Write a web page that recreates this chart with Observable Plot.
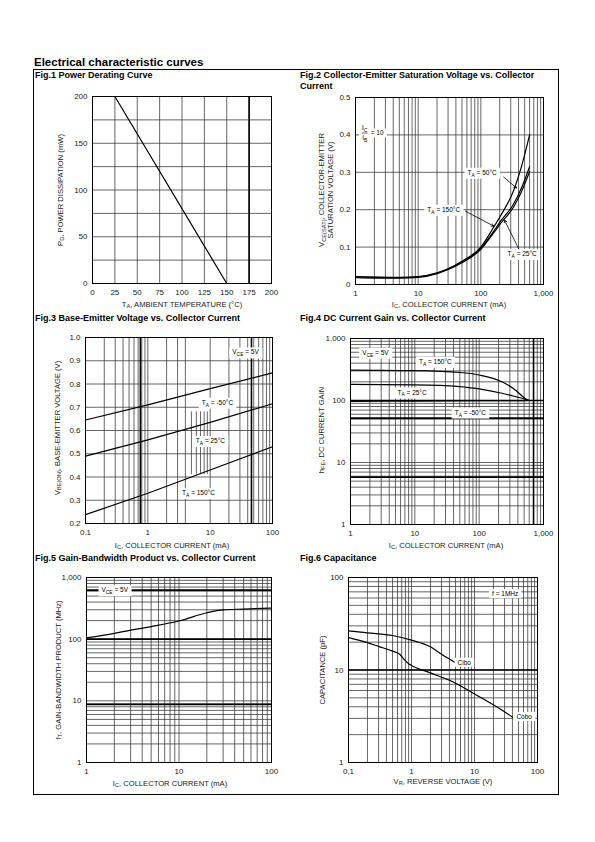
<!DOCTYPE html>
<html><head><meta charset="utf-8">
<script src="https://cdn.jsdelivr.net/npm/d3@7"></script>
<script src="https://cdn.jsdelivr.net/npm/@observablehq/plot@0.6"></script>
<style>
body{margin:0;background:#fff;}
#page{position:relative;width:595px;height:842px;overflow:hidden;font-family:"Liberation Sans",Arial,sans-serif;background:#fff;}
.abs{position:absolute;white-space:nowrap;}
.main{font-weight:bold;font-size:11.5px;line-height:12px;}
.ttl{font-weight:bold;font-size:9px;line-height:10.5px;}
.ax{font-size:7.6px;line-height:9px;color:#222;text-align:center;}
.ax sub{font-size:75%;vertical-align:-0.3em;line-height:0;}
#border{position:absolute;left:33px;top:69px;width:524px;height:724px;border:1px solid #000;}
</style>
</head><body>
<div id="page"><div id="border"></div></div>
<script>
// ---------- DATA ----------
// Fig.1 Power derating
const fig1Temp = [0, 25, 150];
const fig1Power = [200, 200, 0];
const fig1XTicks = [0, 25, 50, 75, 100, 125, 150, 175, 200];
const fig1YTicks = [0, 50, 100, 150, 200];
const fig1Grid = [25, 50, 75, 100, 125, 150, 175];
const fig1ThickX = [175];

// Fig.2 VCE(sat) vs Ic
const fig2Ic   = [1, 2, 5, 10, 20, 30, 50, 100, 160, 200, 335, 450, 600];
const fig2V150 = [0.021, 0.020, 0.019, 0.021, 0.031, 0.042, 0.062, 0.100, 0.153, 0.180, 0.252, 0.318, 0.400];
const fig2V50  = [0.020, 0.019, 0.018, 0.020, 0.030, 0.041, 0.060, 0.097, 0.142, 0.166, 0.216, 0.260, 0.315];
const fig2V25  = [0.018, 0.017, 0.017, 0.019, 0.029, 0.040, 0.058, 0.094, 0.138, 0.160, 0.208, 0.250, 0.302];
const fig2XTicks = [1, 10, 100, 1000];
const fig2YTicks = [0, 0.1, 0.2, 0.3, 0.4, 0.5];
const fig2Labels = [
  {t: "T_{A} = 50°C", x: 105, y: 0.299},
  {t: "T_{A} = 150°C", x: 25.6, y: 0.200},
  {t: "T_{A} = 25°C", x: 457, y: 0.082}
];
const fig2Arrows = [
  {x1: 232, y1: 0.287, x2: 371, y2: 0.258},
  {x1: 57, y1: 0.196, x2: 161, y2: 0.156},
  {x1: 404, y1: 0.095, x2: 239, y2: 0.172}
];
const fig2Ratio = [
  {t: "I_{C}", x: 1.4, y: 0.418, a: "middle"},
  {t: "I_{B}", x: 1.4, y: 0.392, a: "middle"},
  {t: "= 10", x: 1.75, y: 0.404, a: "start"}
];
const fig2RatioBar = [{x1: 1.27, x2: 1.56, y: 0.405}];

// Fig.3 VBE(on) vs Ic
const fig3Ic = [0.1, 1, 10, 100];
const fig3Vm50 = [0.645, 0.710, 0.780, 0.848];
const fig3V25  = [0.490, 0.560, 0.635, 0.715];
const fig3V150 = [0.238, 0.330, 0.430, 0.530];
const fig3XTicks = [0.1, 1, 10, 100];
const fig3YTicks = [0.2, 0.3, 0.4, 0.5, 0.6, 0.7, 0.8, 0.9, 1.0];
const fig3ThickX = [0.76, 46];
const fig3PartialX = [5, 6, 7, 8, 9];
const fig3PartialSpan = [0.41, 0.68];
const fig3Labels = [
  {t: "V_{CE} = 5V", x: 36.9, y: 0.936},
  {t: "T_{A} = -50°C", x: 13.1, y: 0.720},
  {t: "T_{A} = 25°C", x: 10.1, y: 0.555},
  {t: "T_{A} = 150°C", x: 6.5, y: 0.331}
];

// Fig.4 hFE vs Ic
const fig4Ic150 = [1, 10, 50, 100, 226, 364, 520, 600];
const fig4H150  = [310, 303, 283, 258, 201, 148, 108, 100];
const fig4Ic25  = [1, 10, 50, 100, 226, 364, 600];
const fig4H25   = [182, 179, 168, 154, 131, 116, 100];
const fig4IcM50 = [1, 10, 100, 600];
const fig4HM50  = [97, 98, 99, 100];
const fig4XTicks = [1, 10, 100, 1000];
const fig4YTicks = [1, 10, 100, 1000];
const fig4ThickY = [100, 52, 5.8];
const fig4ThickX = [700];
const fig4Labels = [
  {t: "V_{CE} = 5V", x: 2.44, y: 589},
  {t: "T_{A} = 150°C", x: 20.8, y: 422},
  {t: "T_{A} = 25°C", x: 9.06, y: 135},
  {t: "T_{A} = -50°C", x: 73, y: 64}
];

// Fig.5 fT vs Ic
const fig5Ic = [1, 2, 3, 5, 10, 20, 30, 50, 100];
const fig5fT = [105, 124, 140, 160, 197, 268, 299, 308, 320];
const fig5XTicks = [1, 10, 100];
const fig5YTicks = [1, 10, 100, 1000];
const fig5ThickY = [623, 100, 8.7];
const fig5Labels = [{t: "V_{CE} = 5V", x: 2.02, y: 623}];

// Fig.6 Capacitance vs VR
const fig6VrCibo = [0.1, 0.2, 0.5, 1, 2, 3, 5];
const fig6Cibo   = [26.5, 25.2, 23.6, 21, 17.8, 14.8, 12];
const fig6VrCobo = [0.1, 0.2, 0.3, 0.5, 0.65, 0.75, 0.9, 1, 2, 5, 10, 20, 40];
const fig6Cobo   = [22.4, 19.8, 18, 16, 14.8, 13.2, 11.7, 11.2, 9.3, 7.2, 5.5, 4.2, 3.1];
const fig6XTicks = [0.1, 1, 10, 100];
const fig6YTicks = [1, 10, 100];
const fig6ThickY = [10];
const fig6Labels = [
  {t: "Cibo", x: 6.86, y: 12},
  {t: "Cobo", x: 61.4, y: 3.1},
  {t: "f = 1MHz", x: 30.7, y: 66}
];

// ---------- HELPERS ----------
const page = document.getElementById("page");
const SVGNS = "http://www.w3.org/2000/svg";
const pts = (xs, ys) => xs.map((x, i) => ({x, y: ys[i]}));
function logGrid(lo, hi) {
  const out = [];
  for (let e = Math.round(Math.log10(lo)); e < Math.round(Math.log10(hi)); e++)
    for (let k = 1; k < 10; k++) out.push(+(k * Math.pow(10, e)).toPrecision(6));
  out.push(hi);
  return out;
}
const GRID = {stroke: "#333", strokeWidth: 0.75};
const THICK = {stroke: "#000", strokeWidth: 1.6};
const CURVE = {x: "x", y: "y", stroke: "#000", strokeWidth: 1.2, curve: "monotone-x"};
const LBL = {x: "x", y: "y", text: "t", fontSize: 6.5, fill: "#000"};

function richify(t) {
  const s = t.textContent;
  if (!s.includes("_{")) return;
  while (t.firstChild) t.removeChild(t.firstChild);
  const re = /_\{([^}]*)\}/g; let last = 0, m, shifted = false;
  const add = (str, sub) => {
    const sp = document.createElementNS(SVGNS, "tspan");
    sp.textContent = str;
    if (sub) { sp.setAttribute("dy", "2"); sp.setAttribute("font-size", "75%"); shifted = true; }
    else if (shifted) { sp.setAttribute("dy", "-2"); shifted = false; }
    t.appendChild(sp);
  };
  while ((m = re.exec(s))) {
    if (m.index > last) add(s.slice(last, m.index), false);
    add(m[1], true);
    last = re.lastIndex;
  }
  if (last < s.length) add(s.slice(last), false);
}

function fig({frame: [x0, y0, x1, y1], x, y, marks}) {
  const mL = 36, mR = 18, mT = 8, mB = 18;
  const svg = Plot.plot({
    width: x1 - x0 + mL + mR, height: y1 - y0 + mT + mB,
    marginLeft: mL, marginRight: mR, marginTop: mT, marginBottom: mB,
    style: {fontFamily: '"Liberation Sans", Arial, sans-serif', fontSize: "8px", color: "#222", background: "none", overflow: "visible"},
    x: {...x, label: null, tickSize: 0, tickPadding: 6},
    y: {...y, label: null, tickSize: 0, tickPadding: 5},
    marks
  });
  svg.style.position = "absolute";
  svg.style.left = (x0 - mL) + "px";
  svg.style.top = (y0 - mT) + "px";
  svg.style.maxWidth = "none";
  page.appendChild(svg);
  svg.querySelectorAll('g[aria-label="text"] text').forEach(richify);
  svg.querySelectorAll('g[aria-label="text"] text').forEach(t => {
    const b = t.getBBox();
    const r = document.createElementNS(SVGNS, "rect");
    r.setAttribute("x", b.x - 3); r.setAttribute("y", b.y - 1);
    r.setAttribute("width", b.width + 6); r.setAttribute("height", b.height + 2);
    r.setAttribute("fill", "#fff");
    const tr = t.getAttribute("transform"); if (tr) r.setAttribute("transform", tr);
    t.parentNode.insertBefore(r, t);
  });
  return svg;
}
function html(cls, content, left, top) {
  const d = document.createElement("div");
  d.className = "abs " + cls; d.innerHTML = content;
  d.style.left = left + "px"; d.style.top = top + "px";
  page.appendChild(d); return d;
}
function axisTitle(content, cx, cy, rot) {
  const d = html("ax", content, cx, cy);
  d.style.transform = "translate(-50%,-50%)" + (rot ? " rotate(-90deg)" : "");
  return d;
}

// ---------- FIG 1 ----------
fig({
  frame: [92, 96, 271, 283],
  x: {domain: [0, 200], ticks: fig1XTicks},
  y: {domain: [0, 200], ticks: fig1YTicks},
  marks: [
    Plot.ruleX(fig1Grid, GRID), Plot.ruleY(fig1Grid, GRID),
    Plot.ruleX(fig1ThickX, THICK),
    Plot.frame({stroke: "#000"}),
    Plot.line(pts(fig1Temp, fig1Power), {x: "x", y: "y", stroke: "#000", strokeWidth: 1.2})
  ]
});

// ---------- FIG 2 ----------
fig({
  frame: [355, 97, 543, 284],
  x: {type: "log", domain: [1, 1000], ticks: fig2XTicks, tickFormat: d3.format(",")},
  y: {domain: [0, 0.5], ticks: fig2YTicks, tickFormat: d => d === 0 ? "0" : d.toFixed(1)},
  marks: [
    Plot.ruleX(logGrid(1, 1000), GRID), Plot.ruleY(fig2YTicks, GRID),
    Plot.frame({stroke: "#000"}),
    Plot.line(pts(fig2Ic, fig2V150), CURVE),
    Plot.line(pts(fig2Ic, fig2V50), CURVE),
    Plot.line(pts(fig2Ic, fig2V25), CURVE),
    Plot.text(fig2Labels, LBL),
    Plot.text(fig2Ratio, {...LBL, textAnchor: "start", filter: d => d.a === "start"}),
    Plot.text(fig2Ratio, {...LBL, filter: d => d.a === "middle"}),
    Plot.link(fig2RatioBar, {x1: "x1", x2: "x2", y1: "y", y2: "y", stroke: "#000", strokeWidth: 0.6}),
    Plot.arrow(fig2Arrows, {x1: "x1", y1: "y1", x2: "x2", y2: "y2", stroke: "#000", strokeWidth: 0.8, headLength: 5})
  ]
});

// ---------- FIG 3 ----------
const fig3Minor = logGrid(0.1, 100).filter(v => !fig3PartialX.includes(v));
fig({
  frame: [85, 337, 272, 523],
  x: {type: "log", domain: [0.1, 100], ticks: fig3XTicks, tickFormat: d => String(d)},
  y: {domain: [0.2, 1.0], ticks: fig3YTicks, tickFormat: d => d.toFixed(1)},
  marks: [
    Plot.ruleX(fig3Minor, GRID),
    Plot.ruleX(fig3PartialX, {...GRID, y1: fig3PartialSpan[0], y2: fig3PartialSpan[1]}),
    Plot.ruleY(fig3YTicks, GRID),
    Plot.ruleX(fig3ThickX, THICK),
    Plot.frame({stroke: "#000"}),
    Plot.line(pts(fig3Ic, fig3Vm50), {...CURVE, curve: "linear"}),
    Plot.line(pts(fig3Ic, fig3V25), {...CURVE, curve: "linear"}),
    Plot.line(pts(fig3Ic, fig3V150), {...CURVE, curve: "linear"}),
    Plot.text(fig3Labels, LBL)
  ]
});

// ---------- FIG 4 ----------
fig({
  frame: [350, 338, 543, 524],
  x: {type: "log", domain: [1, 1000], ticks: fig4XTicks, tickFormat: d3.format(",")},
  y: {type: "log", domain: [1, 1000], ticks: fig4YTicks, tickFormat: d3.format(",")},
  marks: [
    Plot.ruleX(logGrid(1, 1000), GRID), Plot.ruleY(logGrid(1, 1000), GRID),
    Plot.ruleY(fig4ThickY, THICK), Plot.ruleX(fig4ThickX, THICK),
    Plot.frame({stroke: "#000"}),
    Plot.line(pts(fig4Ic150, fig4H150), CURVE),
    Plot.line(pts(fig4Ic25, fig4H25), CURVE),
    Plot.line(pts(fig4IcM50, fig4HM50), CURVE),
    Plot.text(fig4Labels, LBL)
  ]
});

// ---------- FIG 5 ----------
fig({
  frame: [86, 577, 271, 762],
  x: {type: "log", domain: [1, 100], ticks: fig5XTicks, tickFormat: d3.format(",")},
  y: {type: "log", domain: [1, 1000], ticks: fig5YTicks, tickFormat: d3.format(",")},
  marks: [
    Plot.ruleX(logGrid(1, 100), GRID), Plot.ruleY(logGrid(1, 1000), GRID),
    Plot.ruleY(fig5ThickY, THICK),
    Plot.frame({stroke: "#000"}),
    Plot.line(pts(fig5Ic, fig5fT), CURVE),
    Plot.text(fig5Labels, LBL)
  ]
});

// ---------- FIG 6 ----------
fig({
  frame: [348, 577, 537, 762],
  x: {type: "log", domain: [0.1, 100], ticks: fig6XTicks, tickFormat: d => d === 0.1 ? "0,1" : String(d)},
  y: {type: "log", domain: [1, 100], ticks: fig6YTicks, tickFormat: d => String(d)},
  marks: [
    Plot.ruleX(logGrid(0.1, 100), GRID), Plot.ruleY(logGrid(1, 100), GRID),
    Plot.ruleY(fig6ThickY, THICK),
    Plot.frame({stroke: "#000"}),
    Plot.line(pts(fig6VrCibo, fig6Cibo), CURVE),
    Plot.line(pts(fig6VrCobo, fig6Cobo), CURVE),
    Plot.text(fig6Labels, LBL)
  ]
});

// ---------- TEXT ----------
html("main", "Electrical characteristic curves", 34, 56);
html("ttl", "Fig.1 Power Derating Curve", 35, 70);
html("ttl", "Fig.2 Collector-Emitter Saturation Voltage vs. Collector<br>Current", 300, 70);
html("ttl", "Fig.3 Base-Emitter Voltage vs. Collector Current", 35, 313);
html("ttl", "Fig.4 DC Current Gain vs. Collector Current", 300, 313);
html("ttl", "Fig.5 Gain-Bandwidth Product vs. Collector Current", 35, 553);
html("ttl", "Fig.6 Capacitance", 300, 553);

axisTitle("T<sub>A</sub>, AMBIENT TEMPERATURE (°C)", 182, 304, false);
axisTitle("P<sub>D</sub>, POWER DISSIPATION (mW)", 60, 190, true);
axisTitle("I<sub>C</sub>, COLLECTOR CURRENT (mA)", 449, 304, false);
axisTitle("V<sub>CE(SAT)</sub>, COLLECTOR-EMITTER<br>SATURATION VOLTAGE (V)", 326, 190, true);
axisTitle("I<sub>C</sub>, COLLECTOR CURRENT (mA)", 172, 545, false);
axisTitle("V<sub>BE(ON)</sub>, BASE-EMITTER VOLTAGE (V)", 57, 428, true);
axisTitle("I<sub>C</sub>, COLLECTOR CURRENT (mA)", 446, 545, false);
axisTitle("h<sub>FE</sub>, DC CURRENT GAIN", 321, 430, true);
axisTitle("I<sub>C</sub>, COLLECTOR CURRENT (mA)", 170, 783, false);
axisTitle("f<sub>T</sub>, GAIN-BANDWIDTH PRODUCT (MHz)", 58, 670, true);
axisTitle("V<sub>R</sub>, REVERSE VOLTAGE (V)", 443, 781, false);
axisTitle("CAPACITANCE (pF)", 322, 670, true);
</script>
</body></html>
